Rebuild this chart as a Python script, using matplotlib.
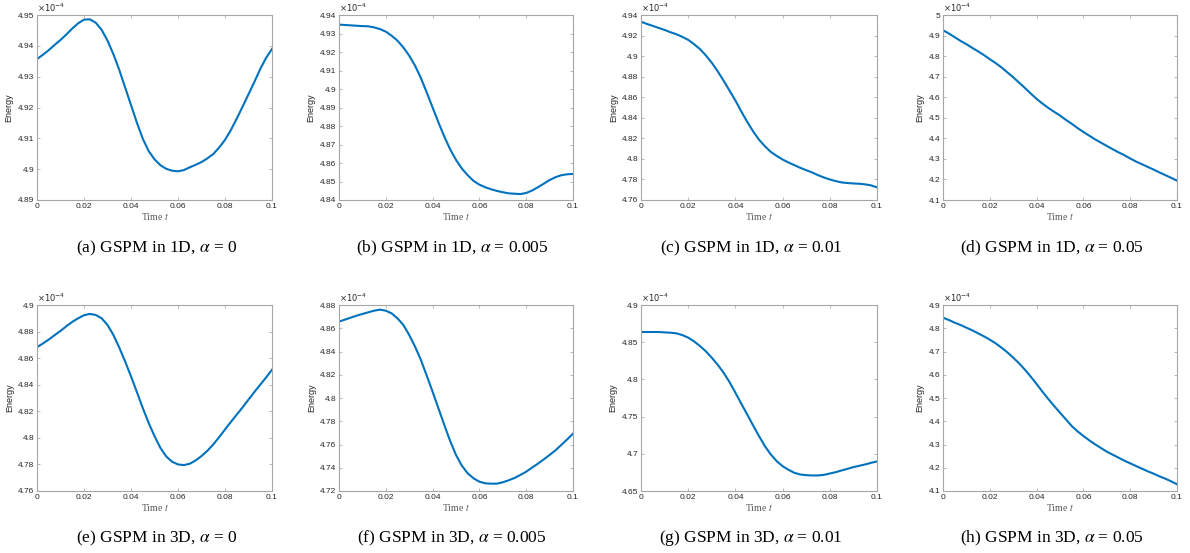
import numpy as np
import matplotlib.pyplot as plt
from matplotlib.ticker import FuncFormatter

plt.rcParams['font.family'] = ['Liberation Sans', 'DejaVu Sans']
plt.rcParams['mathtext.fontset'] = 'stix'

# sample times, dt = 0.0025
t = np.linspace(0, 0.1, 41)

# energy histories, in units of 1e-4
e_1d_a0 = [4.9357, 4.9371, 4.9386, 4.9403, 4.9419, 4.9437, 4.9456, 4.9473, 4.9485, 4.9486,
           4.9475, 4.9452, 4.9417, 4.9373, 4.9322, 4.9265, 4.9208, 4.9151, 4.9099, 4.9059,
           4.9032, 4.9013, 4.9001, 4.8995, 4.8993, 4.8997, 4.9006, 4.9014, 4.9023, 4.9035,
           4.9049, 4.9070, 4.9095, 4.9127, 4.9164, 4.9203, 4.9243, 4.9283, 4.9325, 4.9361, 4.9390]
e_1d_a005 = [4.9348, 4.9346, 4.9344, 4.9342, 4.9340, 4.9339, 4.9333, 4.9324, 4.9310, 4.9288,
             4.9261, 4.9225, 4.9180, 4.9126, 4.9059, 4.8981, 4.8900, 4.8819, 4.8743, 4.8674,
             4.8617, 4.8570, 4.8534, 4.8503, 4.8483, 4.8469, 4.8458, 4.8449, 4.8442, 4.8436,
             4.8434, 4.8432, 4.8438, 4.8451, 4.8469, 4.8488, 4.8508, 4.8523, 4.8534, 4.8539, 4.8541]
e_1d_a01 = [4.9335, 4.9313, 4.9294, 4.9274, 4.9255, 4.9232, 4.9213, 4.9187, 4.9158, 4.9116,
            4.9068, 4.9006, 4.8935, 4.8852, 4.8761, 4.8665, 4.8568, 4.8461, 4.8361, 4.8268,
            4.8187, 4.8123, 4.8068, 4.8029, 4.7994, 4.7965, 4.7939, 4.7913, 4.7890, 4.7868,
            4.7842, 4.7819, 4.7800, 4.7784, 4.7771, 4.7765, 4.7761, 4.7758, 4.7752, 4.7742, 4.7723]
e_1d_a05 = [4.926, 4.910, 4.892, 4.874, 4.858, 4.840, 4.823, 4.805, 4.785, 4.766,
            4.745, 4.721, 4.697, 4.671, 4.645, 4.618, 4.592, 4.569, 4.548, 4.529,
            4.511, 4.490, 4.471, 4.450, 4.431, 4.413, 4.395, 4.379, 4.363, 4.347,
            4.332, 4.318, 4.302, 4.287, 4.274, 4.261, 4.248, 4.234, 4.221, 4.208, 4.194]
e_3d_a0 = [4.8683, 4.8710, 4.8740, 4.8773, 4.8805, 4.8840, 4.8873, 4.8900, 4.8923, 4.8933,
           4.8925, 4.8900, 4.8850, 4.8775, 4.8680, 4.8575, 4.8463, 4.8345, 4.8225, 4.8113,
           4.8013, 4.7925, 4.7860, 4.7820, 4.7800, 4.7795, 4.7805, 4.7830, 4.7863, 4.7903,
           4.7950, 4.8005, 4.8063, 4.8120, 4.8175, 4.8230, 4.8288, 4.8345, 4.8400, 4.8455, 4.8513]
e_3d_a005 = [4.8657, 4.8674, 4.8691, 4.8708, 4.8723, 4.8737, 4.8751, 4.8760, 4.8751, 4.8728,
             4.8685, 4.8628, 4.8542, 4.8442, 4.8327, 4.8192, 4.8054, 4.7911, 4.7768, 4.7630,
             4.7510, 4.7418, 4.7352, 4.7309, 4.7280, 4.7266, 4.7263, 4.7263, 4.7275, 4.7292,
             4.7312, 4.7338, 4.7366, 4.7401, 4.7435, 4.7472, 4.7510, 4.7550, 4.7596, 4.7644, 4.7693]
e_3d_a01 = [4.8637, 4.8637, 4.8637, 4.8637, 4.8632, 4.8628, 4.8619, 4.8596, 4.8561, 4.8511,
            4.8448, 4.8377, 4.8291, 4.8197, 4.8090, 4.7964, 4.7821, 4.7673, 4.7529, 4.7381,
            4.7238, 4.7103, 4.6991, 4.6901, 4.6834, 4.6785, 4.6744, 4.6722, 4.6713, 4.6709,
            4.6709, 4.6717, 4.6735, 4.6753, 4.6776, 4.6798, 4.6821, 4.6839, 4.6857, 4.6879, 4.6897]
e_3d_a05 = [4.8455, 4.8355, 4.8240, 4.8140, 4.8025, 4.7910, 4.7781, 4.7652, 4.7509, 4.7351,
            4.7165, 4.6964, 4.6735, 4.6491, 4.6219, 4.5918, 4.5602, 4.5272, 4.4957, 4.4656,
            4.4369, 4.4082, 4.3796, 4.3566, 4.3366, 4.3179, 4.3007, 4.2849, 4.2692, 4.2563,
            4.2434, 4.2305, 4.2190, 4.2075, 4.1961, 4.1846, 4.1746, 4.1631, 4.1530, 4.1416, 4.1287]

series = [e_1d_a0, e_1d_a005, e_1d_a01, e_1d_a05,
          e_3d_a0, e_3d_a005, e_3d_a01, e_3d_a05]
captions = [r'(a) GSPM in 1D, $\alpha$ = 0', r'(b) GSPM in 1D, $\alpha$ = 0.005',
            r'(c) GSPM in 1D, $\alpha$ = 0.01', r'(d) GSPM in 1D, $\alpha$ = 0.05',
            r'(e) GSPM in 3D, $\alpha$ = 0', r'(f) GSPM in 3D, $\alpha$ = 0.005',
            r'(g) GSPM in 3D, $\alpha$ = 0.01', r'(h) GSPM in 3D, $\alpha$ = 0.05']
ylims = [(4.89, 4.95), (4.84, 4.94), (4.76, 4.94), (4.1, 5.0),
         (4.76, 4.90), (4.72, 4.88), (4.65, 4.90), (4.1, 4.9)]
ysteps = [0.01, 0.01, 0.02, 0.1, 0.02, 0.02, 0.05, 0.1]

W, H = 1190, 553
fig = plt.figure(figsize=(W / 100, H / 100), dpi=100)

cols = [(37, 272), (339, 573), (641, 877), (943, 1177)]
rows = [(15, 200), (305, 491)]
cap_x = [157, 452, 751, 1052]
cap_y = [248, 538]

fmt = FuncFormatter(lambda v, p: '%g' % round(v, 4))

for i, y in enumerate(series):
    r, c = divmod(i, 4)
    x0, x1 = cols[c]
    y0, y1 = rows[r]
    ax = fig.add_axes([x0 / W, 1 - y1 / H, (x1 - x0) / W, (y1 - y0) / H])
    ax.plot(t, y, color='#0072BD', lw=1.5)
    ax.set_xlim(0, 0.1)
    lo, hi = ylims[i]
    ax.set_ylim(lo, hi)
    ax.set_xticks(np.arange(0, 0.1001, 0.02))
    ax.set_yticks(np.arange(lo, hi + 1e-9, ysteps[i]))
    ax.xaxis.set_major_formatter(fmt)
    ax.yaxis.set_major_formatter(fmt)
    ax.tick_params(direction='in', length=2, width=0.5, colors='#a0a0a0',
                   labelcolor='#262626', labelsize=6, pad=2,
                   top=True, right=True)
    for s in ax.spines.values():
        s.set_color('#a6a6a6')
        s.set_linewidth(0.8)
    ax.set_ylabel('Energy', fontsize=6.5, color='#262626', labelpad=3)
    ax.set_xlabel('Time $t$', fontsize=7, color='#555555', labelpad=1,
                  family='Liberation Serif')
    ax.text(0.0, 1.004, r'$\times10^{-4}$', transform=ax.transAxes,
            ha='left', va='bottom', fontsize=6, color='#262626',
            math_fontfamily='dejavusans')
    fig.text(cap_x[c] / W, 1 - cap_y[r] / H, captions[i], ha='center', va='center',
             fontsize=12.5, family='Liberation Serif')

fig.savefig('out.png', dpi=100)
